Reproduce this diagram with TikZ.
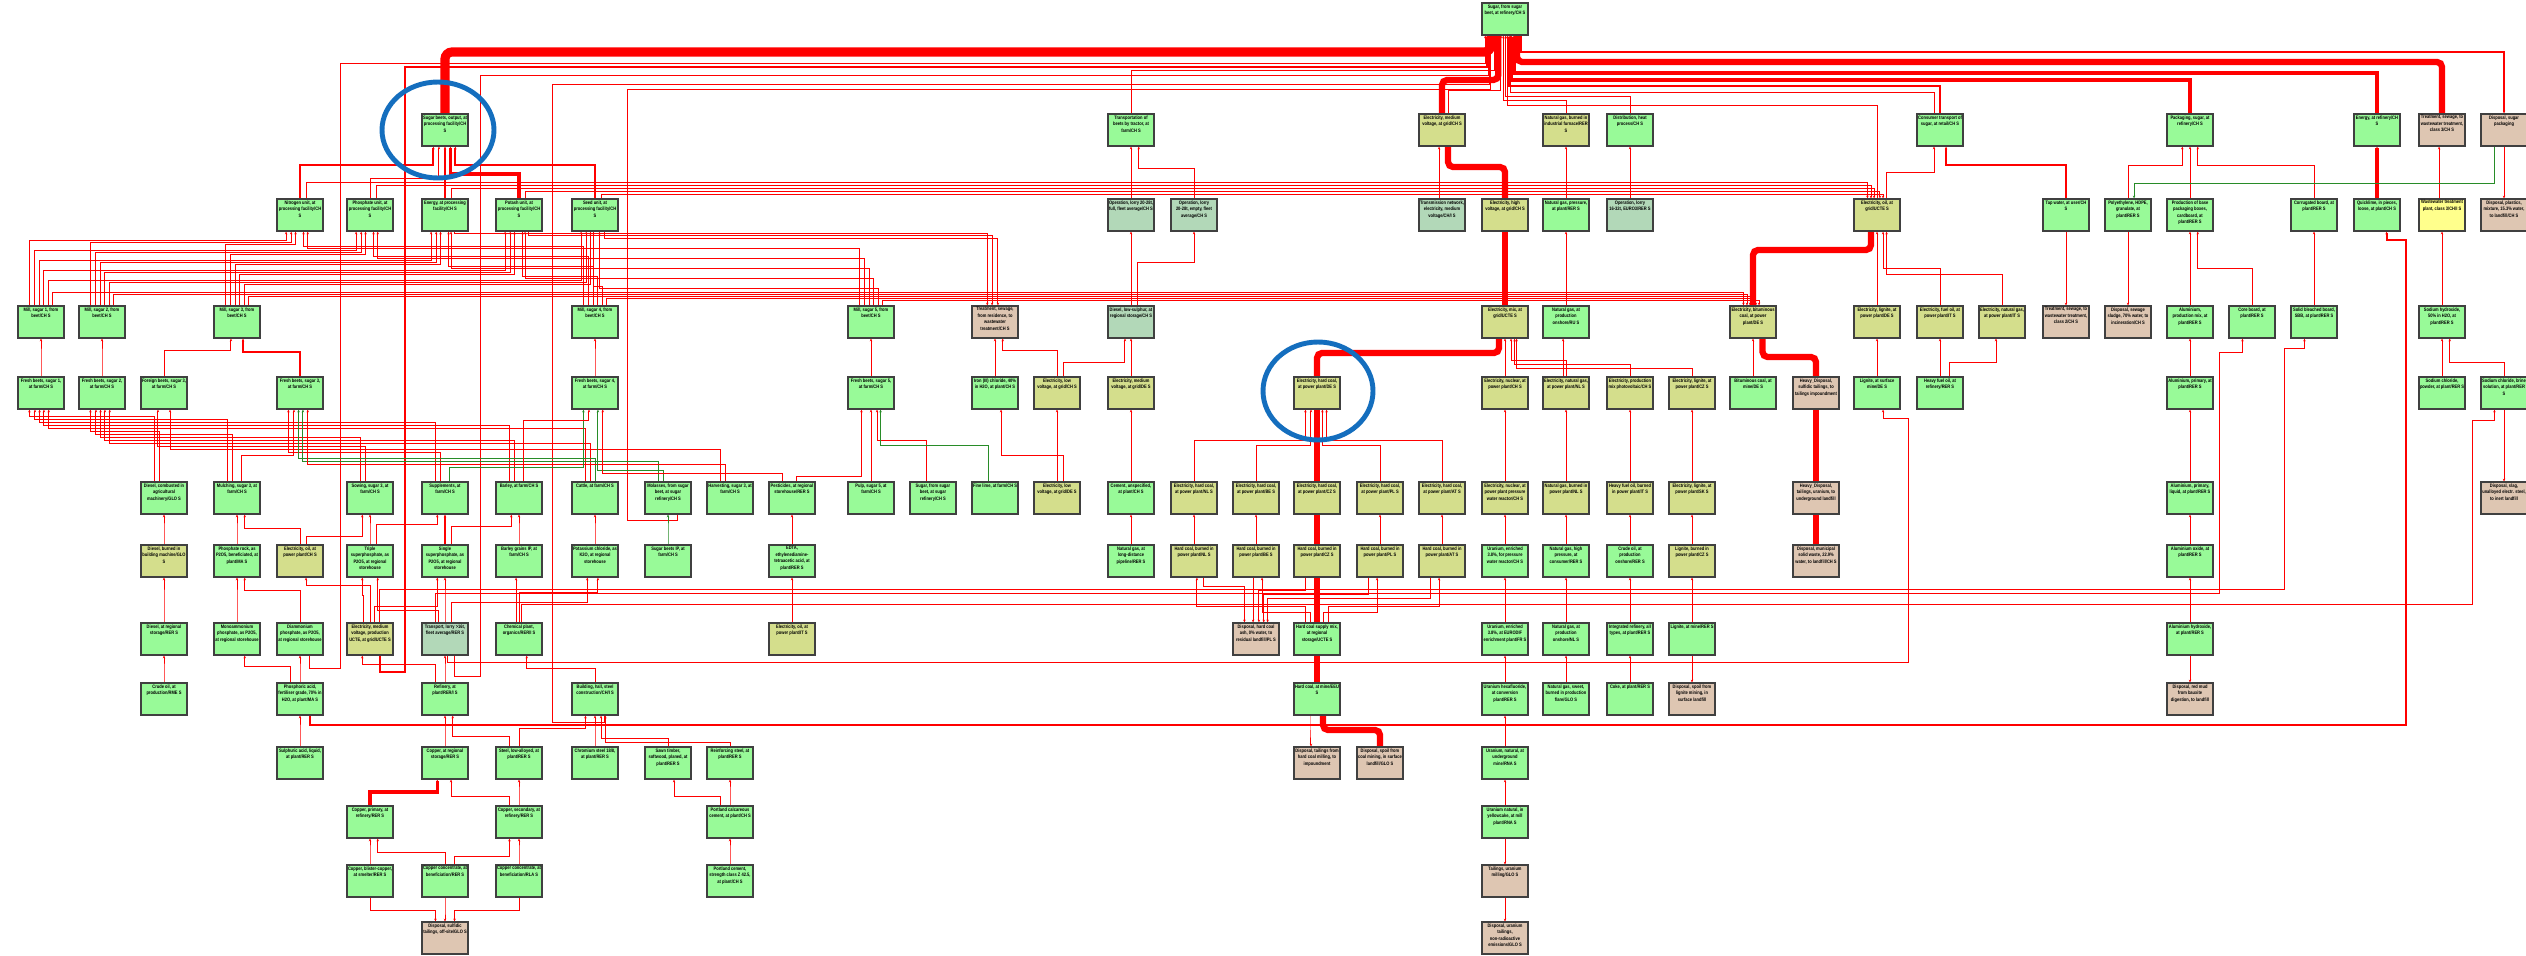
\documentclass[tikz,border=0pt]{standalone}
\usepackage{fontspec}
\newfontfamily\boxfont{Liberation Sans}[FakeStretch=0.82]
\usetikzlibrary{arrows.meta}
\pgfdeclarelayer{wires}
\pgfsetlayers{wires,main}

\definecolor{cgreen}{RGB}{152,250,152}
\definecolor{colive}{RGB}{212,222,140}
\definecolor{cgrey}{RGB}{178,216,184}
\definecolor{ctan}{RGB}{222,198,178}
\definecolor{clight}{RGB}{255,255,140}
\definecolor{cwire}{RGB}{255,0,0}
\definecolor{cgwire}{RGB}{40,140,40}
\definecolor{cring}{RGB}{20,110,190}

\newcommand{\lbl}[1]{\parbox[c][1.45cm][t]{2.2cm}{\centering #1}}
\newcommand{\wire}[4][]{\draw[wire,#1] (#2) -- (#2 |- 0,#4) -| (#3);}

\begin{document}
\begin{tikzpicture}[x=0.05cm, y=-0.05cm, >={Stealth[length=4pt,width=3.5pt]},
  box/.style={draw=black!75, line width=1.6pt, minimum width=2.3cm, minimum height=1.6cm, inner sep=0pt,
    font=\boxfont\bfseries\fontsize{7}{9.2}\selectfont},
  gbox/.style={box, fill=cgreen},
  ybox/.style={box, fill=colive},
  sbox/.style={box, fill=cgrey},
  tbox/.style={box, fill=ctan},
  lbox/.style={box, fill=clight},
  wire/.style={draw=cwire, line width=1.4pt, ->},
  gwire/.style={draw=cgwire},
  w2/.style={line width=3pt},
  w4/.style={line width=5pt},
  w7/.style={line width=9pt, rounded corners=0.25cm, -},
  w10/.style={line width=13pt, rounded corners=0.35cm, -},
  ring/.style={draw=cring, line width=7pt}]

\useasboundingbox (0,0) rectangle (2526,955);
\begin{pgfonlayer}{wires}
\fill[white] (0,0) rectangle (2526,955);
\end{pgfonlayer}

% row 0
\node[gbox] (sugar) at (1505,19) {\lbl{Sugar, from sugar beet, at refinery/CH S}};

% row 1
\node[gbox] (beet) at (445,130) {\lbl{Sugar beets, output, at processing facility/CH S}};
\node[gbox] (tractor) at (1131,130) {\lbl{Transportation of beets by tractor, at farm/CH S}};
\node[ybox] (elmv) at (1442,130) {\lbl{Electricity, medium voltage, at grid/CH S}};
\node[ybox] (gasfurn) at (1566,130) {\lbl{Natural gas, burned in industrial furnace/RER S}};
\node[gbox] (heatdist) at (1630,130) {\lbl{Distribution, heat process/CH S}};
\node[gbox] (consum) at (1940,130) {\lbl{Consumer transport of sugar, at retail/CH S}};
\node[gbox] (pack) at (2190,130) {\lbl{Packaging, sugar, at refinery/CH S}};
\node[gbox] (lime) at (2377,130) {\lbl{Energy, at refinery/CH S}};
\node[tbox] (sewage) at (2442,130) {\lbl{Treatment, sewage, to wastewater treatment, class 3/CH S}};
\node[tbox] (dispack) at (2504,130) {\lbl{Disposal, sugar packaging}};

% row 2
\node[gbox] (fan) at (300,215) {\lbl{Nitrogen unit, at processing facility/CH S}};
\node[gbox] (fphos) at (370,215) {\lbl{Phosphate unit, at processing facility/CH S}};
\node[gbox] (fenergy) at (445,215) {\lbl{Energy, at processing facility/CH S}};
\node[gbox] (fpot) at (519,215) {\lbl{Potash unit, at processing facility/CH S}};
\node[gbox] (fseed) at (595,215) {\lbl{Seed unit, at processing facility/CH S}};
\node[sbox] (lorryfull) at (1131,215) {\lbl{Operation, lorry 20-28t, full, fleet average/CH S}};
\node[sbox] (lorryempty) at (1194,215) {\lbl{Operation, lorry 20-28t, empty, fleet average/CH S}};
\node[sbox] (netmv) at (1442,215) {\lbl{Transmission network, electricity, medium voltage/CH/I S}};
\node[ybox] (elhv) at (1505,215) {\lbl{Electricity, high voltage, at grid/CH S}};
\node[gbox] (gaspres) at (1566,215) {\lbl{Natural gas, pressure, at plant/RER S}};
\node[sbox] (lorrysixteen) at (1630,215) {\lbl{Operation, lorry 16-32t, EURO3/RER S}};
\node[ybox] (elucte) at (1877,215) {\lbl{Electricity, oil, at grid/UCTE S}};
\node[gbox] (tapwater) at (2066,215) {\lbl{Tap water, at user/CH S}};
\node[gbox] (hdpe) at (2128,215) {\lbl{Polyethylene, HDPE, granulate, at plant/RER S}};
\node[gbox] (boxes) at (2190,215) {\lbl{Production of base packaging boxes, cardboard, at plant/RER S}};
\node[gbox] (corrug) at (2314,215) {\lbl{Corrugated board, at plant/RER S}};
\node[gbox] (quick) at (2377,215) {\lbl{Quicklime, in pieces, loose, at plant/CH S}};
\node[lbox] (wwtp) at (2442,215) {\lbl{Wastewater treatment plant, class 3/CH/I S}};
\node[tbox] (displast) at (2504,215) {\lbl{Disposal, plastics, mixture, 15.3\% water, to landfill/CH S}};

% row 3
\node[gbox] (mill1) at (41,322) {\lbl{Mill, sugar 1, from beet/CH S}};
\node[gbox] (mill2) at (102,322) {\lbl{Mill, sugar 2, from beet/CH S}};
\node[gbox] (mill3) at (237,322) {\lbl{Mill, sugar 3, from beet/CH S}};
\node[gbox] (mill4) at (595,322) {\lbl{Mill, sugar 4, from beet/CH S}};
\node[gbox] (mill5) at (871,322) {\lbl{Mill, sugar 5, from beet/CH S}};
\node[tbox] (sewres) at (995,322) {\lbl{Treatment, sewage, from residence, to wastewater treatment/CH S}};
\node[sbox] (diesel) at (1131,322) {\lbl{Diesel, low-sulphur, at regional storage/CH S}};
\node[ybox] (elmix) at (1505,322) {\lbl{Electricity, mix, at grid/UCTE S}};
\node[gbox] (gasind) at (1566,322) {\lbl{Natural gas, at production onshore/RU S}};
\node[ybox] (elbit) at (1753,322) {\lbl{Electricity, bituminous coal, at power plant/DE S}};
\node[ybox] (ellig) at (1877,322) {\lbl{Electricity, lignite, at power plant/DE S}};
\node[ybox] (eloil) at (1940,322) {\lbl{Electricity, fuel oil, at power plant/IT S}};
\node[ybox] (elgas) at (2002,322) {\lbl{Electricity, natural gas, at power plant/IT S}};
\node[tbox] (sewcls) at (2066,322) {\lbl{Treatment, sewage, to wastewater treatment, class 2/CH S}};
\node[tbox] (sludge) at (2128,322) {\lbl{Disposal, sewage sludge, 70\% water, to incineration/CH S}};
\node[gbox] (almix) at (2190,322) {\lbl{Aluminium, production mix, at plant/RER S}};
\node[gbox] (coreboard) at (2252,322) {\lbl{Core board, at plant/RER S}};
\node[gbox] (sbb) at (2314,322) {\lbl{Solid bleached board, SBB, at plant/RER S}};
\node[gbox] (naoh) at (2442,322) {\lbl{Sodium hydroxide, 50\% in H2O, at plant/RER S}};

% row 4
\node[gbox] (fresh1) at (41,393) {\lbl{Fresh beets, sugar 1, at farm/CH S}};
\node[gbox] (fresh2) at (102,393) {\lbl{Fresh beets, sugar 2, at farm/CH S}};
\node[gbox] (foreign) at (164,393) {\lbl{Foreign beets, sugar 3, at farm/CH S}};
\node[gbox] (fresh3) at (300,393) {\lbl{Fresh beets, sugar 3, at farm/CH S}};
\node[gbox] (fresh4) at (595,393) {\lbl{Fresh beets, sugar 4, at farm/CH S}};
\node[gbox] (fresh5) at (871,393) {\lbl{Fresh beets, sugar 5, at farm/CH S}};
\node[gbox] (fecl) at (995,393) {\lbl{Iron (III) chloride, 40\% in H2O, at plant/CH S}};
\node[ybox] (ellv) at (1057,393) {\lbl{Electricity, low voltage, at grid/CH S}};
\node[ybox] (elmvde) at (1131,393) {\lbl{Electricity, medium voltage, at grid/DE S}};
\node[ybox] (elhc) at (1317,393) {\lbl{Electricity, hard coal, at power plant/DE S}};
\node[ybox] (elnuc) at (1505,393) {\lbl{Electricity, nuclear, at power plant/CH S}};
\node[ybox] (elhydro) at (1566,393) {\lbl{Electricity, natural gas, at power plant/NL S}};
\node[ybox] (elpv) at (1630,393) {\lbl{Electricity, production mix photovoltaic/CH S}};
\node[ybox] (ellcz) at (1692,393) {\lbl{Electricity, lignite, at power plant/CZ S}};
\node[gbox] (bitcoal) at (1753,393) {\lbl{Bituminous coal, at mine/DE S}};
\node[tbox] (tailA) at (1816,393) {\lbl{Heavy\_Disposal, sulfidic tailings, to tailings impoundment}};
\node[gbox] (lignite) at (1877,393) {\lbl{Lignite, at surface mine/DE S}};
\node[gbox] (hfo) at (1940,393) {\lbl{Heavy fuel oil, at refinery/RER S}};
\node[gbox] (alprim) at (2190,393) {\lbl{Aluminium, primary, at plant/RER S}};
\node[gbox] (nacl) at (2442,393) {\lbl{Sodium chloride, powder, at plant/RER S}};
\node[gbox] (naclb) at (2504,393) {\lbl{Sodium chloride, brine solution, at plant/RER S}};

% row 5
\node[gbox] (dieselag) at (164,498) {\lbl{Diesel, combusted in agricultural machinery/GLO S}};
\node[gbox] (mulch) at (237,498) {\lbl{Mulching, sugar 3, at farm/CH S}};
\node[gbox] (sowing) at (370,498) {\lbl{Sowing, sugar 3, at farm/CH S}};
\node[gbox] (suppl) at (445,498) {\lbl{Supplements, at farm/CH S}};
\node[gbox] (barley) at (519,498) {\lbl{Barley, at farm/CH S}};
\node[gbox] (cattle) at (595,498) {\lbl{Cattle, at farm/CH S}};
\node[gbox] (molass) at (668,498) {\lbl{Molasses, from sugar beet, at sugar refinery/CH S}};
\node[gbox] (harvest) at (730,498) {\lbl{Harvesting, sugar 3, at farm/CH S}};
\node[gbox] (pest) at (792,498) {\lbl{Pesticides, at regional storehouse/RER S}};
\node[gbox] (pulp) at (871,498) {\lbl{Pulp, sugar 5, at farm/CH S}};
\node[gbox] (sugarref) at (933,498) {\lbl{Sugar, from sugar beet, at sugar refinery/CH S}};
\node[gbox] (field) at (995,498) {\lbl{Fine lime, at farm/CH S}};
\node[ybox] (ellvde) at (1057,498) {\lbl{Electricity, low voltage, at grid/DE S}};
\node[gbox] (cement) at (1131,498) {\lbl{Cement, unspecified, at plant/CH S}};
\node[ybox] (hcnl) at (1194,498) {\lbl{Electricity, hard coal, at power plant/NL S}};
\node[ybox] (hcbe) at (1256,498) {\lbl{Electricity, hard coal, at power plant/BE S}};
\node[ybox] (hccz) at (1317,498) {\lbl{Electricity, hard coal, at power plant/CZ S}};
\node[ybox] (hcpl) at (1380,498) {\lbl{Electricity, hard coal, at power plant/PL S}};
\node[ybox] (hcat) at (1442,498) {\lbl{Electricity, hard coal, at power plant/AT S}};
\node[ybox] (nucpwr) at (1505,498) {\lbl{Electricity, nuclear, at power plant pressure water reactor/CH S}};
\node[ybox] (gaspwr) at (1566,498) {\lbl{Natural gas, burned in power plant/NL S}};
\node[ybox] (oilpwr) at (1630,498) {\lbl{Heavy fuel oil, burned in power plant/IT S}};
\node[ybox] (ligsk) at (1692,498) {\lbl{Electricity, lignite, at power plant/SK S}};
\node[tbox] (tailB) at (1816,498) {\lbl{Heavy\_Disposal, tailings, uranium, to underground landfill}};
\node[gbox] (alliq) at (2190,498) {\lbl{Aluminium, primary, liquid, at plant/RER S}};
\node[tbox] (slag) at (2504,498) {\lbl{Disposal, slag, unalloyed electr. steel, to inert landfill}};

% row 6
\node[ybox] (dieselind) at (164,561) {\lbl{Diesel, burned in building machine/GLO S}};
\node[gbox] (phosrock) at (237,561) {\lbl{Phosphate rock, as P2O5, beneficiated, at plant/MA S}};
\node[ybox] (eloilch) at (300,561) {\lbl{Electricity, oil, at power plant/CH S}};
\node[gbox] (tsp) at (370,561) {\lbl{Triple superphosphate, as P2O5, at regional storehouse}};
\node[gbox] (ssp) at (445,561) {\lbl{Single superphosphate, as P2O5, at regional storehouse}};
\node[gbox] (barleyg) at (519,561) {\lbl{Barley grains IP, at farm/CH S}};
\node[gbox] (potash) at (595,561) {\lbl{Potassium chloride, as K2O, at regional storehouse}};
\node[gbox] (beetsip) at (668,561) {\lbl{Sugar beets IP, at farm/CH S}};
\node[gbox] (edta) at (792,561) {\lbl{EDTA, ethylenediamine\-tetraacetic acid, at plant/RER S}};
\node[gbox] (pipeline) at (1131,561) {\lbl{Natural gas, at long-distance pipeline/RER S}};
\node[ybox] (hcbnl) at (1194,561) {\lbl{Hard coal, burned in power plant/NL S}};
\node[ybox] (hcbbe) at (1256,561) {\lbl{Hard coal, burned in power plant/BE S}};
\node[ybox] (hcbcz) at (1317,561) {\lbl{Hard coal, burned in power plant/CZ S}};
\node[ybox] (hcbpl) at (1380,561) {\lbl{Hard coal, burned in power plant/PL S}};
\node[ybox] (hcbat) at (1442,561) {\lbl{Hard coal, burned in power plant/AT S}};
\node[gbox] (uranenr) at (1505,561) {\lbl{Uranium, enriched 3.8\%, for pressure water reactor/CH S}};
\node[gbox] (gascons) at (1566,561) {\lbl{Natural gas, high pressure, at consumer/RER S}};
\node[gbox] (crudeon) at (1630,561) {\lbl{Crude oil, at production onshore/RER S}};
\node[ybox] (ligburn) at (1692,561) {\lbl{Lignite, burned in power plant/CZ S}};
\node[tbox] (msw) at (1816,561) {\lbl{Disposal, municipal solid waste, 22.9\% water, to landfill/CH S}};
\node[gbox] (alox) at (2190,561) {\lbl{Aluminium oxide, at plant/RER S}};

% row 7
\node[gbox] (dieselreg) at (164,639) {\lbl{Diesel, at regional storage/RER S}};
\node[gbox] (map) at (237,639) {\lbl{Monoammonium phosphate, as P2O5, at regional storehouse}};
\node[gbox] (dap) at (300,639) {\lbl{Diammonium phosphate, as P2O5, at regional storehouse}};
\node[ybox] (elmvucte) at (370,639) {\lbl{Electricity, medium voltage, production UCTE, at grid/UCTE S}};
\node[sbox] (lorry) at (445,639) {\lbl{Transport, lorry >16t, fleet average/RER S}};
\node[gbox] (chemplant) at (519,639) {\lbl{Chemical plant, organics/RER/I S}};
\node[ybox] (eloilit) at (792,639) {\lbl{Electricity, oil, at power plant/IT S}};
\node[tbox] (ashdisp) at (1256,639) {\lbl{Disposal, hard coal ash, 0\% water, to residual landfill/PL S}};
\node[gbox] (hcsupply) at (1317,639) {\lbl{Hard coal supply mix, at regional storage/UCTE S}};
\node[gbox] (uranfr) at (1505,639) {\lbl{Uranium, enriched 3.8\%, at EURODIF enrichment plant/FR S}};
\node[gbox] (gasprod) at (1566,639) {\lbl{Natural gas, at production onshore/NL S}};
\node[gbox] (refinery) at (1630,639) {\lbl{Integrated refinery, all types, at plant/RER S}};
\node[gbox] (ligmine) at (1692,639) {\lbl{Lignite, at mine/RER S}};
\node[gbox] (alhyd) at (2190,639) {\lbl{Aluminium hydroxide, at plant/RER S}};

% row 8
\node[gbox] (crudeo) at (164,699) {\lbl{Crude oil, at production/RME S}};
\node[gbox] (phosacid) at (300,699) {\lbl{Phosphoric acid, fertiliser grade, 70\% in H2O, at plant/MA S}};
\node[gbox] (battery) at (445,699) {\lbl{Refinery, at plant/RER/I S}};
\node[gbox] (building) at (595,699) {\lbl{Building, hall, steel construction/CH/I S}};
\node[gbox] (hcmine) at (1317,699) {\lbl{Hard coal, at mine/EEU S}};
\node[gbox] (uranmine) at (1505,699) {\lbl{Uranium hexafluoride, at conversion plant/RER S}};
\node[gbox] (gassweet) at (1566,699) {\lbl{Natural gas, sweet, burned in production flare/GLO S}};
\node[gbox] (coke) at (1630,699) {\lbl{Coke, at plant/RER S}};
\node[tbox] (ligspoil) at (1692,699) {\lbl{Disposal, spoil from lignite mining, in surface landfill}};
\node[tbox] (redmud) at (2190,699) {\lbl{Disposal, red mud from bauxite digestion, to landfill}};

% row 9
\node[gbox] (sulfacid) at (300,763) {\lbl{Sulphuric acid, liquid, at plant/RER S}};
\node[gbox] (copper) at (445,763) {\lbl{Copper, at regional storage/RER S}};
\node[gbox] (steel) at (519,763) {\lbl{Steel, low-alloyed, at plant/RER S}};
\node[gbox] (chrome) at (595,763) {\lbl{Chromium steel 18/8, at plant/RER S}};
\node[gbox] (timber) at (668,763) {\lbl{Sawn timber, softwood, planed, at plant/RER S}};
\node[gbox] (reinf) at (730,763) {\lbl{Reinforcing steel, at plant/RER S}};
\node[tbox] (coaltail) at (1317,763) {\lbl{Disposal, tailings from hard coal milling, to impoundment}};
\node[tbox] (coalspoil) at (1380,763) {\lbl{Disposal, spoil from coal mining, in surface landfill/GLO S}};
\node[gbox] (uranpit) at (1505,763) {\lbl{Uranium, natural, at underground mine/RNA S}};

% row 10
\node[gbox] (copperpri) at (370,822) {\lbl{Copper, primary, at refinery/RER S}};
\node[gbox] (coppersec) at (519,822) {\lbl{Copper, secondary, at refinery/RER S}};
\node[gbox] (portcalc) at (730,822) {\lbl{Portland calcareous cement, at plant/CH S}};
\node[gbox] (yellowc) at (1505,822) {\lbl{Uranium natural, in yellowcake, at mill plant/RNA S}};

% row 11
\node[gbox] (blister) at (370,881) {\lbl{Copper, blister-copper, at smelter/RER S}};
\node[gbox] (concA) at (445,881) {\lbl{Copper concentrate, at beneficiation/RER S}};
\node[gbox] (concB) at (519,881) {\lbl{Copper concentrate, at beneficiation/RLA S}};
\node[gbox] (portland) at (730,881) {\lbl{Portland cement, strength class Z 42.5, at plant/CH S}};
\node[tbox] (uranmill) at (1505,881) {\lbl{Tailings, uranium milling/GLO S}};

% row 12
\node[tbox] (tailcu) at (445,938) {\lbl{Disposal, sulfidic tailings, off-site/GLO S}};
\node[tbox] (tailur) at (1505,938) {\lbl{Disposal, uranium tailings, non-radioactive emissions/GLO S}};

\begin{pgfonlayer}{wires}
% into the product
\wire[w10]{beet.north}{sugar.-130}{52}
\wire{tractor.north}{sugar.-122}{70}
\wire[w7]{elmv.north}{sugar.-112}{80}
\wire{elmv.70}{sugar.-104}{90}
\wire{gasfurn.north}{sugar.-96}{100}
\wire{heatdist.north}{sugar.-88}{96}
\wire{elucte.north}{sugar.-82}{105}
\wire[w2]{consum.north}{sugar.-76}{86}
\wire{consum.110}{sugar.-72}{92}
\wire[w4]{pack.north}{sugar.-68}{80}
\wire[w4]{lime.north}{sugar.-62}{73}
\wire[w7]{sugar.-54}{sewage.north}{62}
\wire[w2]{sugar.-46}{dispack.north}{52}
\draw[wire] (dap.-60) -- (dap.-60 |- 0,668) -- (340,668) -- (340,63) -| (sugar.-140);
\draw[wire,w2] (elmvucte.-60) -- (elmvucte.-60 |- 0,672) -- (405,672) -- (405,67) -| (sugar.-137);
\draw[wire] (lorry.-60) -- (lorry.-60 |- 0,676) -- (480,676) -- (480,75) -| (sugar.-135);
\draw[wire] (building.-60) -- (building.-60 |- 0,722) -- (552,722) -- (552,84) -| (sugar.-133);
\draw[wire] (molass.-60) -- (molass.-60 |- 0,520) -- (627,520) -- (627,89) -| (sugar.-131);

% beets
\wire[w2]{fan.north}{beet.-125}{165}
\wire{fphos.north}{beet.-110}{178}
\wire[w2]{fenergy.north}{beet.south}{180}
\wire[w4]{fpot.north}{beet.-72}{174}
\wire[w2]{fseed.north}{beet.-58}{165}

\wire{fan.70}{elucte.120}{182}
\wire{fphos.70}{elucte.110}{185}
\wire{fenergy.70}{elucte.100}{188}
\wire{fpot.70}{elucte.80}{191}
\wire{fseed.70}{elucte.70}{194}

% processing units
\wire{mill1.125}{fan.-130}{240}
\wire{mill2.125}{fan.-118}{242}
\wire{mill3.125}{fan.-105}{244}
\wire{mill4.125}{fan.-78}{246}
\wire{mill5.125}{fan.-65}{248}
\wire{mill1.110}{fphos.-130}{250}
\wire{mill2.110}{fphos.-118}{252}
\wire{mill3.110}{fphos.-105}{254}
\wire{mill4.110}{fphos.-78}{256}
\wire{mill5.110}{fphos.-65}{258}
\wire{mill1.95}{fenergy.-130}{260}
\wire{mill2.95}{fenergy.-118}{262}
\wire{mill3.95}{fenergy.-105}{264}
\wire{mill4.95}{fenergy.-78}{266}
\wire{mill5.95}{fenergy.-70}{268}
\wire{mill1.80}{fpot.-130}{270}
\wire{mill2.80}{fpot.-118}{272}
\wire{mill3.80}{fpot.-105}{274}
\wire{mill4.80}{fpot.-78}{276}
\wire{mill5.80}{fpot.-70}{278}
\wire{mill1.65}{fseed.-130}{280}
\wire{mill2.65}{fseed.-118}{282}
\wire{mill3.65}{fseed.-105}{284}
\wire{mill4.65}{fseed.-95}{286}
\wire{mill5.65}{fseed.-75}{288}
\wire{mill1.55}{elbit.120}{292}
\wire{mill2.55}{elbit.110}{294}
\wire{mill3.55}{elbit.100}{296}
\wire{mill4.55}{elbit.80}{298}
\wire{mill5.55}{elbit.70}{300}
\wire{fenergy.-60}{sewres.115}{233}
\wire{fpot.-60}{sewres.100}{235.5}
\wire{fseed.-60}{sewres.80}{238}

\wire{fresh1.north}{mill1.south}{357}
\wire{fresh2.north}{mill2.south}{357}
\wire{foreign.north}{mill3.-110}{350}
\wire[w2]{fresh3.north}{mill3.-70}{352}
\wire{fresh4.north}{mill4.south}{357}
\wire{fresh5.north}{mill5.south}{357}

% farm inputs
\wire{dieselag.120}{fresh1.-125}{416}
\wire{mulch.120}{fresh1.-110}{419}
\wire{suppl.120}{fresh1.-95}{422}
\wire{barley.120}{fresh1.-80}{425}
\wire{cattle.120}{fresh1.-65}{428}
\wire{dieselag.105}{fresh2.-125}{431}
\wire{mulch.105}{fresh2.-110}{434}
\wire{sowing.120}{fresh2.-95}{437}
\wire{barley.105}{fresh2.-80}{440}
\wire{cattle.105}{fresh2.-65}{443}
\wire{sowing.105}{foreign.-110}{446}
\wire{harvest.120}{foreign.-70}{449}
\wire{suppl.105}{fresh3.-125}{452}
\wire{mulch.75}{fresh3.-110}{455}
\wire[gwire]{cattle.90}{fresh3.-95}{458}
\wire[gwire]{molass.120}{fresh3.-80}{461}
\wire{harvest.105}{fresh3.-65}{464}
\wire[gwire]{suppl.75}{fresh4.-125}{467}
\wire{barley.75}{fresh4.-110}{420}
\wire[gwire]{molass.105}{fresh4.-80}{470}
\wire{pest.120}{fresh4.-65}{473}
\wire{pulp.north}{fresh5.south}{450}
\wire{sugarref.110}{fresh5.-70}{440}
\wire[gwire]{field.110}{fresh5.-60}{445}
\wire{pest.75}{fresh5.-120}{476}

\wire{dieselind.north}{dieselag.south}{530}
\wire{phosrock.north}{mulch.south}{530}
\wire{eloilch.north}{mulch.-65}{528}
\wire{eloilch.70}{sowing.-115}{536}
\wire{tsp.north}{sowing.south}{530}
\wire[w2]{ssp.north}{suppl.south}{530}
\wire{tsp.70}{suppl.-115}{524}
\wire{ssp.70}{barley.-115}{526}
\wire{barleyg.north}{barley.south}{530}
\wire{potash.north}{cattle.south}{530}
\wire[gwire]{beetsip.north}{molass.south}{530}
\wire{edta.north}{pest.south}{530}

\wire{dieselreg.north}{dieselind.south}{600}
\wire{map.north}{phosrock.south}{600}
\wire{dap.north}{phosrock.-65}{590}
\wire{elmvucte.110}{tsp.-115}{595}
\wire{elmvucte.north}{eloilch.-70}{585}
\wire{elmvucte.75}{ssp.-115}{606}
\wire{lorry.north}{ssp.south}{600}
\wire{lorry.110}{tsp.-65}{610}
\wire{lorry.70}{potash.-115}{602}
\wire{chemplant.north}{potash.-80}{592}
\wire{chemplant.100}{barleyg.-100}{600}
\wire{eloilit.north}{edta.south}{600}

\wire{crudeo.north}{dieselreg.south}{670}
\wire{phosacid.north}{dap.south}{670}
\wire{phosacid.120}{map.-65}{666}
\wire{battery.north}{lorry.south}{670}
\wire{battery.120}{elmvucte.-115}{664}
\wire{building.north}{chemplant.-65}{668}

\wire{sulfacid.north}{phosacid.south}{732}
\wire{copper.north}{battery.south}{732}
\wire{steel.120}{battery.-65}{736}
\wire{steel.north}{building.-120}{728}
\wire{chrome.north}{building.south}{732}
\wire{timber.north}{building.-70}{738}
\wire{reinf.north}{building.-58}{742}

\wire[w4]{copperpri.north}{copper.-115}{792}
\wire{coppersec.120}{copper.-70}{796}
\wire{coppersec.north}{steel.south}{792}
\wire{portcalc.north}{reinf.south}{792}
\wire{portcalc.120}{timber.-70}{796}

\wire{blister.north}{copperpri.south}{850}
\wire{concA.north}{copperpri.-65}{852}
\wire{concB.north}{coppersec.south}{850}
\wire{concA.60}{coppersec.-120}{856}
\wire{portland.north}{portcalc.south}{850}
\wire{blister.south}{tailcu.120}{910}
\wire{concA.south}{tailcu.north}{910}
\wire{concB.south}{tailcu.60}{910}

% transport and refinery inputs
\wire{lorryfull.north}{tractor.south}{165}
\wire{lorryempty.north}{tractor.-65}{168}
\wire{diesel.north}{lorryfull.south}{255}
\wire{diesel.70}{lorryempty.south}{262}
\wire{fecl.north}{sewres.south}{357}
\wire{ellv.north}{sewres.-65}{350}
\wire{ellv.70}{diesel.-110}{362}
\wire{elmvde.north}{diesel.south}{357}
\wire{ellvde.north}{ellv.south}{450}
\wire{ellvde.70}{fecl.-70}{455}
\wire{cement.north}{elmvde.south}{450}
\wire{pipeline.north}{cement.south}{530}

% electricity
\wire{netmv.100}{elmv.-100}{170}
\wire[w7]{elhv.north}{elmv.-70}{167}
\wire[w7]{elmix.north}{elhv.south}{260}
\wire[w7]{elhc.north}{elmix.-110}{353}
\wire{elnuc.north}{elmix.south}{357}
\wire{elhydro.north}{elmix.-70}{360}
\wire{elpv.north}{elmix.-60}{364}
\wire{ellcz.north}{elmix.-55}{368}
\wire{elhydro.100}{gasind.-100}{357}
\wire{gaspres.north}{gasfurn.south}{170}
\wire{gasind.north}{gaspres.south}{260}
\wire{lorrysixteen.north}{heatdist.south}{170}

\wire[w7]{hccz.north}{elhc.south}{440}
\wire{hcnl.north}{elhc.-125}{440}
\wire{hcbe.north}{elhc.-110}{445}
\wire{hcpl.north}{elhc.-72}{445}
\wire{hcat.north}{elhc.-60}{440}
\wire{hcbnl.north}{hcnl.south}{530}
\wire{hcbbe.north}{hcbe.south}{530}
\wire[w7]{hcbcz.north}{hccz.south}{530}
\wire{hcbpl.north}{hcpl.south}{530}
\wire{hcbat.north}{hcat.south}{530}
\wire[w7]{hcsupply.north}{hcbcz.south}{600}
\wire{hcsupply.125}{hcbnl.-80}{606}
\wire{hcsupply.110}{hcbbe.-70}{612}
\wire{hcsupply.70}{hcbpl.-100}{612}
\wire{hcsupply.55}{hcbat.-100}{606}
\wire{hcbnl.-60}{ashdisp.125}{586}
\wire{hcbbe.-100}{ashdisp.100}{600}
\wire{hcbcz.-125}{ashdisp.80}{590}
\wire{hcbpl.-125}{ashdisp.65}{594}
\wire{hcbat.-125}{ashdisp.55}{598}
\wire[w7]{hcmine.north}{hcsupply.south}{670}
\wire[w7]{hcmine.-70}{coalspoil.north}{730}
\wire{hcmine.-110}{coaltail.110}{730}

\wire{nucpwr.north}{elnuc.south}{450}
\wire{uranenr.north}{nucpwr.south}{530}
\wire{uranfr.north}{uranenr.south}{600}
\wire{uranmine.north}{uranfr.south}{670}
\wire{uranpit.north}{uranmine.south}{730}
\wire{yellowc.north}{uranpit.south}{792}
\wire{yellowc.south}{uranmill.north}{850}
\wire{uranmill.south}{tailur.north}{910}

\wire{gaspwr.north}{elhydro.south}{450}
\wire{gascons.north}{gaspwr.south}{530}
\wire{gasprod.north}{gascons.south}{600}
\wire{gassweet.north}{gasprod.south}{670}
\wire{oilpwr.north}{elpv.south}{450}
\wire{crudeon.north}{oilpwr.south}{530}
\wire{refinery.north}{crudeon.south}{600}
\wire{coke.north}{refinery.south}{670}
\wire{ligsk.north}{ellcz.south}{450}
\wire{ligburn.north}{ligsk.south}{530}
\wire{ligmine.north}{ligburn.south}{600}
\wire{ligmine.south}{ligspoil.north}{670}

\wire[w7]{elbit.north}{elucte.-110}{250}
\wire{ellig.north}{elucte.south}{262}
\wire{eloil.north}{elucte.-70}{268}
\wire{elgas.north}{elucte.-60}{274}
\wire{bitcoal.north}{elbit.south}{357}
\wire[w7]{elbit.-60}{tailA.north}{357}
\wire[w7]{tailA.south}{tailB.north}{450}
\wire[w7]{tailB.south}{msw.north}{530}
\wire{lignite.north}{ellig.south}{357}
\wire{hfo.north}{eloil.south}{357}
\wire{hfo.60}{elgas.-110}{362}

% packaging and consumer
\wire[w2]{tapwater.north}{consum.-70}{165}
\wire{elucte.60}{consum.-110}{172}
\wire{hdpe.north}{pack.-115}{165}
\wire{boxes.north}{pack.south}{170}
\wire{corrug.north}{pack.-65}{165}
\wire[w4]{quick.north}{lime.south}{170}
\wire{wwtp.100}{sewage.-100}{170}
\wire{dispack.south}{displast.north}{170}
\wire[gwire]{dispack.-120}{hdpe.70}{183}
\wire{tapwater.south}{sewcls.north}{260}
\wire{hdpe.south}{sludge.north}{260}
\wire{almix.north}{boxes.south}{262}
\wire{coreboard.north}{boxes.-65}{268}
\wire{sbb.north}{corrug.south}{262}
\wire{naoh.north}{wwtp.south}{262}
\wire{alprim.north}{almix.south}{357}
\wire{nacl.north}{naoh.south}{357}
\wire{naclb.north}{naoh.-65}{362}
\wire{alliq.north}{alprim.south}{450}
\wire{naclb.south}{slag.north}{450}
\wire{alox.north}{alliq.south}{530}
\wire{alhyd.north}{alox.south}{600}
\wire{alhyd.south}{redmud.north}{670}

% long runs
\draw[wire,w2] (phosacid.-60) -- (phosacid.-60 |- 0,725) -- (2406,725) -- (2406,240) -| (quick.-60);
\draw[wire] (lorry.120) -- (lorry.120 |- 0,593) -- (2219,593) -- (2219,352) -| (coreboard.-120);
\draw[wire] (elmvucte.60) -- (elmvucte.60 |- 0,589) -- (2284,589) -- (2284,348) -| (sbb.-120);
\draw[wire] (chemplant.80) -- (chemplant.80 |- 0,604) -- (2472,604) -- (2472,420) -| (naclb.-120);
\draw[wire] (lorry.-80) -- (lorry.-80 |- 0,662) -- (1908,662) -- (1908,418) -| (lignite.-70);
\end{pgfonlayer}

\draw[ring] (438,130) ellipse [x radius=2.8cm, y radius=2.4cm];
\draw[ring] (1318,391) ellipse [x radius=2.75cm, y radius=2.45cm];
\end{tikzpicture}
\end{document}
